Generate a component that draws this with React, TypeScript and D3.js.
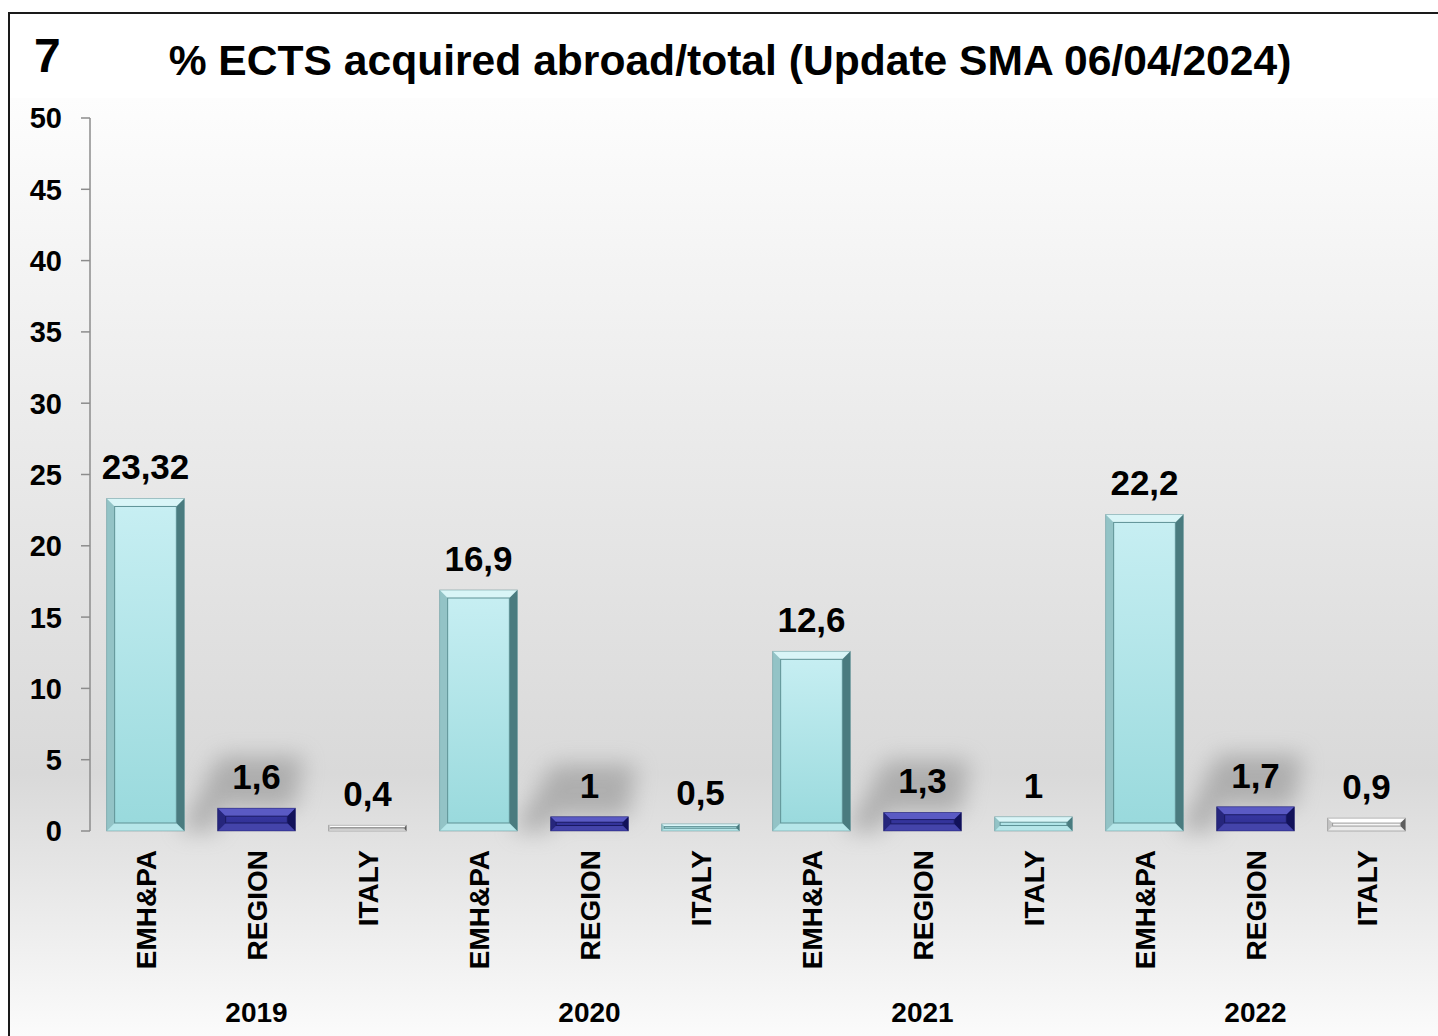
import React from "react";
import * as d3 from "d3";

const years = ["2019", "2020", "2021", "2022"];
const series = ["EMH&PA", "REGION", "ITALY"];
const emhValues = [23.32, 16.9, 12.6, 22.2];
const regionValues = [1.6, 1, 1.3, 1.7];
const italyValues = [0.4, 0.5, 1, 0.9];
const yTicks = [0, 5, 10, 15, 20, 25, 30, 35, 40, 45, 50];
const italyTone = ["white", "cyan", "cyan", "white"];

const W = 1438;
const H = 1036;
const FONT = "'Liberation Sans', Arial, Helvetica, sans-serif";

const tones: Record<string, any> = {
  cyan: { top: "#d9f5f7", bottom: "#b6e6e9", left: "#93c3c6", right: "#4a7b7f", in0: "#c8eff3", in1: "#98d9dc", line: "#5e9195" },
  blue: { top: "#5a5ac4", bottom: "#4444aa", left: "#26267c", right: "#12125a", in0: "#3c3caa", in1: "#2c2c8c", line: "#1a1a62" },
  white: { top: "#ffffff", bottom: "#eaeaea", left: "#c4c4c4", right: "#5e5e5e", in0: "#ffffff", in1: "#ececec", line: "#9a9a9a" },
};

const fmt = (v: number) => String(v).replace(".", ",");

function Bar({ x, w, y0, y1, tone }: any) {
  const t = tones[tone];
  const h = y0 - y1;
  const b = Math.min(8, h / 2.6);
  const x1 = x + w;
  const id = `g-${tone}`;
  return (
    <g>
      <rect x={x} y={y1} width={w} height={h} fill={`url(#${id})`} />
      <polygon points={`${x},${y1} ${x1},${y1} ${x1 - b},${y1 + b} ${x + b},${y1 + b}`} fill={t.top} />
      <polygon points={`${x},${y0} ${x1},${y0} ${x1 - b},${y0 - b} ${x + b},${y0 - b}`} fill={t.bottom} />
      <polygon points={`${x},${y1} ${x + b},${y1 + b} ${x + b},${y0 - b} ${x},${y0}`} fill={t.left} />
      <polygon points={`${x1},${y1} ${x1 - b},${y1 + b} ${x1 - b},${y0 - b} ${x1},${y0}`} fill={t.right} />
      {h > 2 * b + 1 && (
        <rect x={x + b} y={y1 + b} width={w - 2 * b} height={h - 2 * b} fill="none" stroke={t.line} strokeWidth={1} />
      )}
      <rect x={x} y={y1} width={w} height={h} fill="none" stroke={t.right} strokeOpacity={0.5} strokeWidth={0.8} />
    </g>
  );
}

export default function App() {
  const plotLeft = 90;
  const plotRight = 1422;
  const y = d3.scaleLinear().domain([0, 50]).range([831, 118]);
  const xg = d3.scaleBand<string>().domain(years).range([plotLeft, plotRight]).padding(0);
  const xs = d3.scaleBand<string>().domain(series).range([0, xg.bandwidth()]).paddingInner(0.3).paddingOuter(0.15);
  const valuesBySeries = [emhValues, regionValues, italyValues];

  const bars: any[] = [];
  years.forEach((yr, i) => {
    series.forEach((s, j) => {
      const v = valuesBySeries[j][i];
      const tone = j === 0 ? "cyan" : j === 1 ? "blue" : italyTone[i];
      bars.push({ yr, s, v, tone, x: (xg(yr) ?? 0) + (xs(s) ?? 0), w: xs.bandwidth() });
    });
  });

  return (
    <svg width={W} height={H} style={{ position: "absolute", left: 0, top: 0, fontFamily: FONT }}>
      <defs>
        <linearGradient id="bgGrad" x1="0" y1="0" x2="0" y2="1">
          <stop offset="0" stopColor="#fdfdfd" />
          <stop offset="0.35" stopColor="#ebebeb" />
          <stop offset="0.72" stopColor="#d9d9d9" />
          <stop offset="1" stopColor="#fbfbfb" />
        </linearGradient>
        {Object.keys(tones).map((k) => (
          <linearGradient key={k} id={`g-${k}`} x1="0" y1="0" x2="0" y2="1">
            <stop offset="0" stopColor={tones[k].in0} />
            <stop offset="1" stopColor={tones[k].in1} />
          </linearGradient>
        ))}
        <filter id="blur" x="-60%" y="-60%" width="220%" height="220%">
          <feGaussianBlur stdDeviation="11" />
        </filter>
      </defs>
      <rect x={0} y={0} width={W} height={H} fill="#ffffff" />
      <rect x={10} y={98} width={W - 10} height={H - 98} fill="url(#bgGrad)" />
      <rect x={9} y={13} width={W + 20} height={H + 20} fill="none" stroke="#1a1a1a" strokeWidth={2} />

      <text x={34} y={72} fontSize={48} fontWeight="bold" fill="#000">7</text>
      <text x={730} y={75} fontSize={42.6} fontWeight="bold" textAnchor="middle" fill="#000">
        % ECTS acquired abroad/total (Update SMA 06/04/2024)
      </text>

      {/* y axis */}
      <line x1={plotLeft} x2={plotLeft} y1={y(50)} y2={y(0)} stroke="#8c8c8c" strokeWidth={1.5} />
      {yTicks.map((t) => (
        <g key={t}>
          <line x1={plotLeft - 9} x2={plotLeft} y1={y(t)} y2={y(t)} stroke="#8c8c8c" strokeWidth={1.5} />
          <text x={62} y={y(t)} dy="0.36em" fontSize={29} fontWeight="bold" textAnchor="end" fill="#000">
            {t}
          </text>
        </g>
      ))}

      {/* shadows behind REGION bars */}
      {bars
        .filter((b) => b.s === "REGION")
        .map((b) => {
          const yt = y(b.v);
          const yb = y(0);
          return (
            <polygon
              key={"sh" + b.yr}
              points={`${b.x},${yb} ${b.x - 38},${yb} ${b.x + 2},${yt - 52} ${b.x + b.w + 8},${yt - 52} ${b.x + b.w},${yt} ${b.x},${yt}`}
              fill="#8a8a8a"
              opacity={0.55}
              filter="url(#blur)"
            />
          );
        })}

      {bars.map((b) => (
        <Bar key={b.yr + b.s} x={b.x} w={b.w} y0={y(0)} y1={y(b.v)} tone={b.tone} />
      ))}

      {bars.map((b) => (
        <text
          key={"v" + b.yr + b.s}
          x={b.x + b.w / 2}
          y={y(b.v) - 19}
          fontSize={35}
          fontWeight="bold"
          textAnchor="middle"
          fill="#000"
        >
          {fmt(b.v)}
        </text>
      ))}

      {bars.map((b) => (
        <text
          key={"c" + b.yr + b.s}
          transform={`translate(${b.x + b.w / 2},850) rotate(-90)`}
          dy="0.36em"
          fontSize={28}
          fontWeight="bold"
          textAnchor="end"
          fill="#000"
        >
          {b.s}
        </text>
      ))}

      {years.map((yr) => (
        <text
          key={"y" + yr}
          x={(xg(yr) ?? 0) + (xs("REGION") ?? 0) + xs.bandwidth() / 2}
          y={1022}
          fontSize={28}
          fontWeight="bold"
          textAnchor="middle"
          fill="#000"
        >
          {yr}
        </text>
      ))}
    </svg>
  );
}
